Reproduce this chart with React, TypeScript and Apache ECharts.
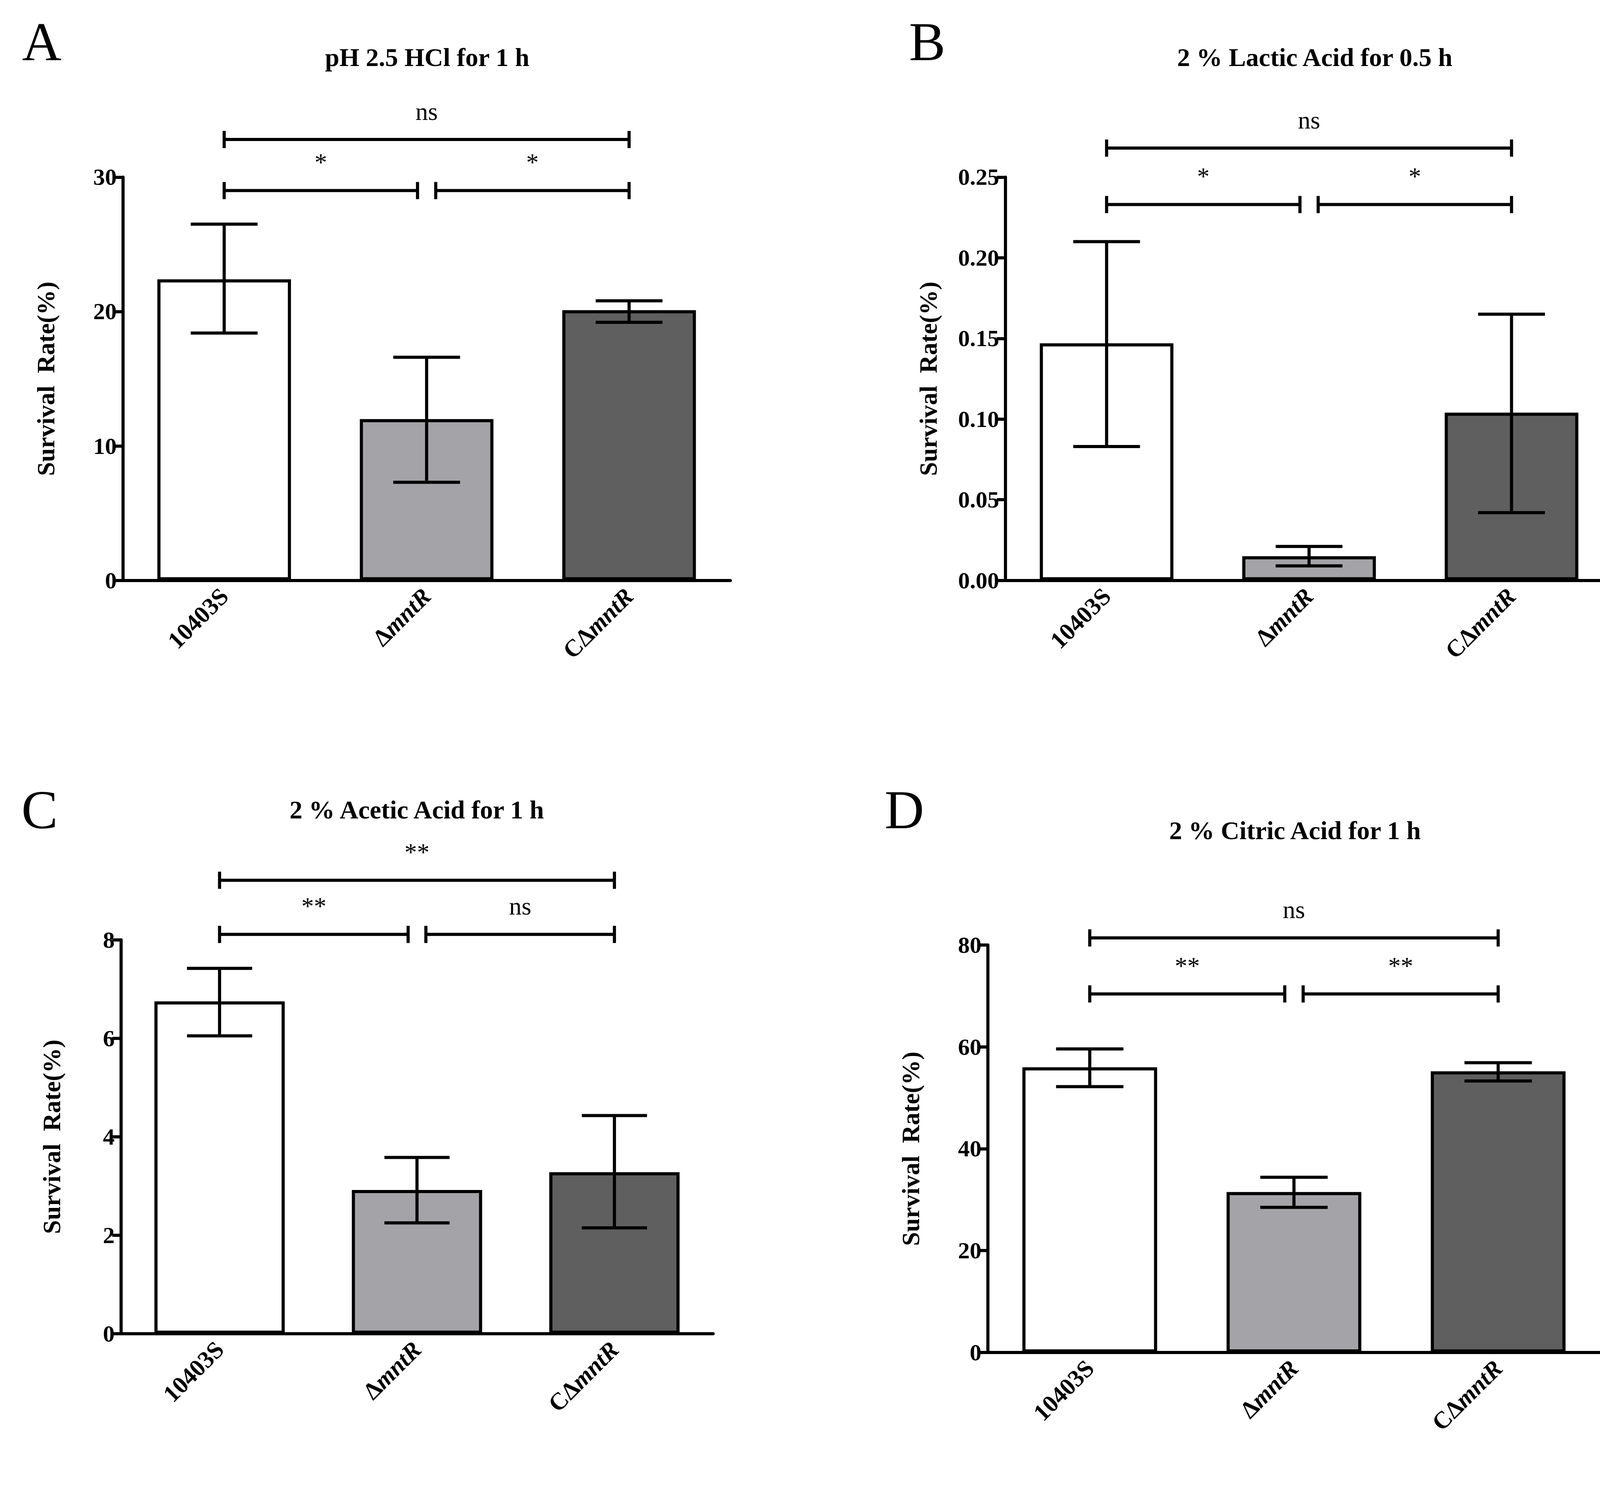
import { useEffect, useRef } from 'react'
import * as echarts from 'echarts'

const categories = ['10403S', 'ΔmntR', 'CΔmntR']
const barColors = ['#ffffff', '#a4a4a8', '#5f5f5f']

const titles = ['pH 2.5 HCl for 1 h', '2 % Lactic Acid for 0.5 h', '2 % Acetic Acid for 1 h', '2 % Citric Acid for 1 h']
const letters = ['A', 'B', 'C', 'D']

const meansA = [22.4, 12.0, 20.1]
const lowA = [18.4, 7.3, 19.2]
const highA = [26.5, 16.6, 20.8]

const meansB = [0.147, 0.015, 0.104]
const lowB = [0.083, 0.009, 0.042]
const highB = [0.21, 0.021, 0.165]

const meansC = [6.75, 2.92, 3.28]
const lowC = [6.05, 2.25, 2.15]
const highC = [7.42, 3.58, 4.43]

const meansD = [56, 31.5, 55.2]
const lowD = [52.2, 28.5, 53.3]
const highD = [59.6, 34.4, 56.9]

// [from index, to index, y value, label]
const bracketsA: [number, number, number, string][] = [[0, 2, 32.8, 'ns'], [0, 1, 29.0, '*'], [1, 2, 29.0, '*']]
const bracketsB: [number, number, number, string][] = [[0, 2, 0.268, 'ns'], [0, 1, 0.233, '*'], [1, 2, 0.233, '*']]
const bracketsC: [number, number, number, string][] = [[0, 2, 9.21, '**'], [0, 1, 8.11, '**'], [1, 2, 8.11, 'ns']]
const bracketsD: [number, number, number, string][] = [[0, 2, 81.4, 'ns'], [0, 1, 70.4, '**'], [1, 2, 70.4, '**']]

const yMax = [30, 0.25, 8, 80]
const yStep = [10, 0.05, 2, 20]
const yDecimals = [0, 2, 0, 0]

const K = 4182 / 1568
const grids = [
  { left: 118 * K, top: 170 * K, width: 583 * K, height: 387 * K },
  { left: 965 * K, top: 170 * K, width: 583 * K, height: 387 * K },
  { left: 116 * K, top: 902 * K, width: 568.5 * K, height: 378 * K },
  { left: 948 * K, top: 907 * K, width: 588 * K, height: 391 * K },
]
const titlePos = [[410, 55], [1262, 55], [400, 777], [1243, 797]]
const letterPos = [[40, 40], [890, 40], [38, 777], [868, 777]]

const FONT = '"Liberation Serif", "Times New Roman", serif'
const LW = 8

export default function App() {
  const ref = useRef<HTMLDivElement>(null)

  useEffect(() => {
    if (!ref.current) return
    document.body.style.margin = '0'
    const chart = echarts.init(ref.current, null, { renderer: 'svg' })

    const means = [meansA, meansB, meansC, meansD]
    const lows = [lowA, lowB, lowC, lowD]
    const highs = [highA, highB, highC, highD]
    const brackets = [bracketsA, bracketsB, bracketsC, bracketsD]

    const xAxis = grids.map((_, i) => ({
      type: 'category',
      gridIndex: i,
      data: categories,
      axisLine: { lineStyle: { color: '#000', width: LW } },
      axisTick: { alignWithLabel: true, length: 30, lineStyle: { color: '#000', width: LW } },
      axisLabel: {
        rotate: 45,
        margin: 30,
        fontFamily: FONT,
        fontWeight: 'bold',
        fontSize: 62,
        color: '#000',
        formatter: (v: string) => (v.endsWith('mntR') ? `{n|${v.slice(0, -4)}}{i|mntR}` : `{n|${v}}`),
        rich: {
          n: { fontFamily: FONT, fontWeight: 'bold', fontSize: 62, color: '#000' },
          i: { fontFamily: FONT, fontWeight: 'bold', fontStyle: 'italic', fontSize: 62, color: '#000' },
        },
      },
    }))

    const yAxis = grids.map((_, i) => ({
      type: 'value',
      gridIndex: i,
      min: 0,
      max: yMax[i],
      interval: yStep[i],
      name: i === 0 || i === 1 ? 'Survival  Rate(%)' : 'Survival  Rate(%)',
      nameLocation: 'middle',
      nameGap: i === 2 ? 145 : 165,
      nameTextStyle: { fontFamily: FONT, fontWeight: 'bold', fontSize: 64, color: '#000' },
      splitLine: { show: false },
      axisLine: { show: true, lineStyle: { color: '#000', width: LW } },
      axisTick: { show: true, length: 22, lineStyle: { color: '#000', width: LW } },
      axisLabel: {
        fontFamily: FONT,
        fontWeight: 'bold',
        fontSize: 60,
        color: '#000',
        margin: 16,
        formatter: (v: number) => v.toFixed(yDecimals[i]),
      },
    }))

    const series: any[] = []
    grids.forEach((_, g) => {
      series.push({
        type: 'bar',
        xAxisIndex: g,
        yAxisIndex: g,
        barWidth: '66%',
        data: means[g].map((v, j) => ({
          value: v,
          itemStyle: { color: barColors[j], borderColor: '#000', borderWidth: LW },
        })),
      })
      series.push({
        type: 'custom',
        xAxisIndex: g,
        yAxisIndex: g,
        data: means[g].map((_, j) => [j, lows[g][j], highs[g][j]]),
        renderItem: (_p: any, api: any) => {
          const lo = api.coord([api.value(0), api.value(1)])
          const hi = api.coord([api.value(0), api.value(2)])
          const half = api.size([1, 0])[0] * 0.165
          const st = { stroke: '#000', lineWidth: LW }
          return {
            type: 'group',
            children: [
              { type: 'line', shape: { x1: lo[0], y1: lo[1], x2: hi[0], y2: hi[1] }, style: st },
              { type: 'line', shape: { x1: lo[0] - half, y1: lo[1], x2: lo[0] + half, y2: lo[1] }, style: st },
              { type: 'line', shape: { x1: hi[0] - half, y1: hi[1], x2: hi[0] + half, y2: hi[1] }, style: st },
            ],
          }
        },
        z: 5,
      })
      series.push({
        type: 'custom',
        xAxisIndex: g,
        yAxisIndex: g,
        clip: false,
        data: brackets[g].map(b => [b[0], b[1], b[2], b[3]]),
        renderItem: (_p: any, api: any) => {
          const a = api.value(0)
          const b = api.value(1)
          const y = api.value(2)
          const label = api.value(3)
          const band = api.size([1, 0])[0]
          const p1 = api.coord([a, y])
          const p2 = api.coord([b, y])
          const full = b - a === 2
          const x1 = p1[0] + (!full && a === 1 ? band * 0.045 : 0)
          const x2 = p2[0] - (!full && b === 1 ? band * 0.045 : 0)
          const st = { stroke: '#000', lineWidth: LW }
          const t = 22
          return {
            type: 'group',
            children: [
              { type: 'line', shape: { x1, y1: p1[1], x2, y2: p1[1] }, style: st },
              { type: 'line', shape: { x1, y1: p1[1] - t, x2: x1, y2: p1[1] + t }, style: st },
              { type: 'line', shape: { x1: x2, y1: p1[1] - t, x2, y2: p1[1] + t }, style: st },
              {
                type: 'text',
                x: (x1 + x2) / 2,
                y: p1[1] - 40,
                style: {
                  text: String(label),
                  fontFamily: FONT,
                  fontSize: 64,
                  fill: '#000',
                  align: 'center',
                  verticalAlign: 'bottom',
                },
              },
            ],
          }
        },
        z: 5,
      })
    })

    const graphic: any[] = []
    titles.forEach((t, i) => {
      graphic.push({
        type: 'text',
        x: titlePos[i][0] * K,
        y: titlePos[i][1] * K,
        style: { text: t, fontFamily: FONT, fontWeight: 'bold', fontSize: 66, fill: '#000', align: 'center', verticalAlign: 'middle' },
      })
      graphic.push({
        type: 'text',
        x: letterPos[i][0] * K,
        y: letterPos[i][1] * K,
        style: { text: letters[i], fontFamily: FONT, fontSize: 140, fill: '#000', align: 'center', verticalAlign: 'middle' },
      })
    })

    chart.setOption({
      animation: false,
      backgroundColor: '#fff',
      grid: grids.map(g => ({ ...g })),
      xAxis,
      yAxis,
      series,
      graphic,
    })

    return () => {
      chart.dispose()
    }
  }, [])

  return <div ref={ref} style={{ width: 4182, height: 3814 }} />
}
